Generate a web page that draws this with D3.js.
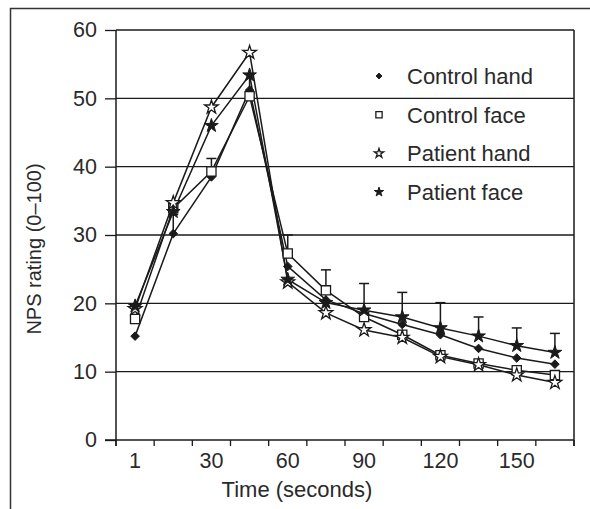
<!DOCTYPE html>
<html>
<head>
<meta charset="utf-8">
<script src="https://cdn.jsdelivr.net/npm/d3@7"></script>
<style>
  html, body { margin: 0; padding: 0; background: #fff; }
  svg { display: block; }
  text { font-family: "Liberation Sans", Arial, Helvetica, sans-serif; fill: #2a2a2a; }
</style>
</head>
<body>
<svg id="chart" width="590" height="509"></svg>
<script>
// ---- data ----
const times = ["1", "15", "30", "45", "60", "75", "90", "105", "120", "135", "150", "165"];
const shownTimeLabels = ["1", "30", "60", "90", "120", "150"];
const controlHand = [15.2, 30.2, 38.5, 51.2, 25.4, 20.5, 18.5, 16.9, 15.4, 13.4, 12.0, 11.1];
const controlFace = [17.7, 33.9, 39.3, 50.3, 27.3, 21.9, 18.0, 15.4, 12.4, 11.2, 10.2, 9.5];
const patientHand = [19.2, 34.7, 48.7, 56.7, 23.1, 18.6, 16.1, 15.0, 12.2, 11.0, 9.5, 8.4];
const patientFace = [19.6, 33.4, 46.0, 53.4, 23.5, 20.1, 19.0, 18.0, 16.4, 15.2, 13.8, 12.8];
// upper error bars: base series and top value per time point
const errBase = [null, "Control hand", "Control face", "Control face", "Control face", "Control face",
                 "Patient face", "Patient face", "Patient face", "Patient face", "Patient face", "Patient face"];
const errTop = [null, 33.0, 41.2, 53.6, 30.0, 24.9, 22.9, 21.6, 20.1, 18.0, 16.4, 15.6];
const yTicks = [0, 10, 20, 30, 40, 50, 60];
const seriesNames = ["Control hand", "Control face", "Patient hand", "Patient face"];

const series = [
  { name: seriesNames[0], values: controlHand, shape: "diamond" },
  { name: seriesNames[1], values: controlFace, shape: "square" },
  { name: seriesNames[2], values: patientHand, shape: "openstar" },
  { name: seriesNames[3], values: patientFace, shape: "star" }
];

// ---- layout ----
const svg = d3.select("#chart");
const pL = 116, pR = 574, pT = 30, pB = 440;
const ink = "#1a1a1a";

const x = d3.scaleBand().domain(times).range([pL, pR]).padding(0);
const cx = t => x(t) + x.bandwidth() / 2;
const y = d3.scaleLinear().domain([0, 60]).range([pB, pT]);

// outer frame (top and left edges visible)
svg.append("line").attr("x1", 10).attr("x2", 590).attr("y1", 8.5).attr("y2", 8.5)
  .attr("stroke", "#333").attr("stroke-width", 1.5);
svg.append("line").attr("x1", 10.5).attr("x2", 10.5).attr("y1", 8).attr("y2", 509)
  .attr("stroke", "#333").attr("stroke-width", 1.5);

// gridlines (10..60)
svg.append("g").selectAll("line").data(yTicks.filter(d => d > 0)).join("line")
  .attr("x1", pL).attr("x2", pR)
  .attr("y1", d => y(d)).attr("y2", d => y(d))
  .attr("stroke", ink).attr("stroke-width", 1.3);
// right border
svg.append("line").attr("x1", pR).attr("x2", pR).attr("y1", pT).attr("y2", pB + 6)
  .attr("stroke", ink).attr("stroke-width", 1.5);

// y axis
const yAxis = svg.append("g").attr("transform", `translate(${pL},0)`)
  .call(d3.axisLeft(y).tickValues(yTicks).tickSize(11).tickPadding(8));
yAxis.select(".domain").remove();
yAxis.selectAll(".tick line").attr("stroke", ink).attr("stroke-width", 1.3);
yAxis.selectAll(".tick text").attr("font-size", 21.5).style("font-family", "Liberation Sans, Arial, sans-serif").attr("fill", "#2a2a2a");
svg.append("line").attr("x1", pL).attr("x2", pL).attr("y1", pT).attr("y2", pB + 6)
  .attr("stroke", ink).attr("stroke-width", 1.5);

// x axis line
svg.append("line").attr("x1", pL - 11).attr("x2", pR).attr("y1", pB).attr("y2", pB)
  .attr("stroke", ink).attr("stroke-width", 1.5);
// x ticks at band boundaries
const bounds = times.map(t => x(t)).concat([x.range()[1]]);
svg.append("g").selectAll("line").data(bounds).join("line")
  .attr("x1", d => d).attr("x2", d => d).attr("y1", pB).attr("y2", pB + 6)
  .attr("stroke", ink).attr("stroke-width", 1.3);
// x labels at band centres
const xAxis = svg.append("g").attr("transform", `translate(0,${pB})`)
  .call(d3.axisBottom(x).tickSize(0).tickPadding(13)
    .tickFormat(d => shownTimeLabels.includes(d) ? d : ""));
xAxis.select(".domain").remove();
xAxis.selectAll(".tick text").attr("font-size", 21.5).style("font-family", "Liberation Sans, Arial, sans-serif").attr("fill", "#2a2a2a");

// axis titles
svg.append("text").attr("x", 297).attr("y", 497)
  .attr("text-anchor", "middle").attr("font-size", 22).text("Time (seconds)");
svg.append("text").attr("transform", "translate(41,249) rotate(-90)")
  .attr("text-anchor", "middle").attr("font-size", 20).text("NPS rating (0–100)");

// marker generator
function markerPath(shape, scale) {
  if (shape === "diamond") {
    const r = 4.3 * scale;
    return `M0,${-r}L${r},0L0,${r}L${-r},0Z`;
  }
  if (shape === "square") {
    const h = 4.6 * scale;
    return `M${-h},${-h}H${h}V${h}H${-h}Z`;
  }
  return d3.symbol(d3.symbolStar, 58 * scale * scale)();
}
function styleMarker(sel, shape) {
  const filled = shape === "diamond" || shape === "star";
  sel.attr("fill", filled ? ink : "#fff").attr("stroke", ink)
    .attr("stroke-width", filled ? 1 : 1.3).attr("stroke-linejoin", "miter");
}

// lines
const line = d3.line().x((d, i) => cx(times[i])).y(d => y(d));
svg.append("g").selectAll("path").data(series).join("path")
  .attr("d", s => line(s.values)).attr("fill", "none")
  .attr("stroke", ink).attr("stroke-width", 1.5);

// error bars
const errData = times.map((t, i) => ({ t, base: errBase[i], topv: errTop[i] }))
  .filter(d => d.base !== null)
  .map(d => ({ t: d.t, from: series.find(s => s.name === d.base).values[times.indexOf(d.t)], to: d.topv }));
const eg = svg.append("g");
eg.selectAll("line.v").data(errData).join("line").attr("class", "v")
  .attr("x1", d => cx(d.t)).attr("x2", d => cx(d.t)).attr("y1", d => y(d.from)).attr("y2", d => y(d.to))
  .attr("stroke", ink).attr("stroke-width", 1.5);
eg.selectAll("line.c").data(errData).join("line").attr("class", "c")
  .attr("x1", d => cx(d.t) - 5).attr("x2", d => cx(d.t) + 5).attr("y1", d => y(d.to)).attr("y2", d => y(d.to))
  .attr("stroke", ink).attr("stroke-width", 1.5);

// markers
series.forEach(s => {
  svg.append("g").selectAll("path").data(s.values).join("path")
    .attr("transform", (d, i) => `translate(${cx(times[i])},${y(d)})`)
    .attr("d", markerPath(s.shape, 1))
    .call(styleMarker, s.shape);
});

// legend
const legendY = d3.scalePoint().domain(seriesNames).range([76, 192]);
const lg = svg.append("g");
series.forEach(s => {
  const gy = legendY(s.name);
  lg.append("path").attr("transform", `translate(379,${gy})`)
    .attr("d", markerPath(s.shape, 0.68)).call(styleMarker, s.shape);
  lg.append("text").attr("x", 407).attr("y", gy).attr("dy", "0.36em")
    .attr("font-size", 22).text(s.name);
});
</script>
</body>
</html>
